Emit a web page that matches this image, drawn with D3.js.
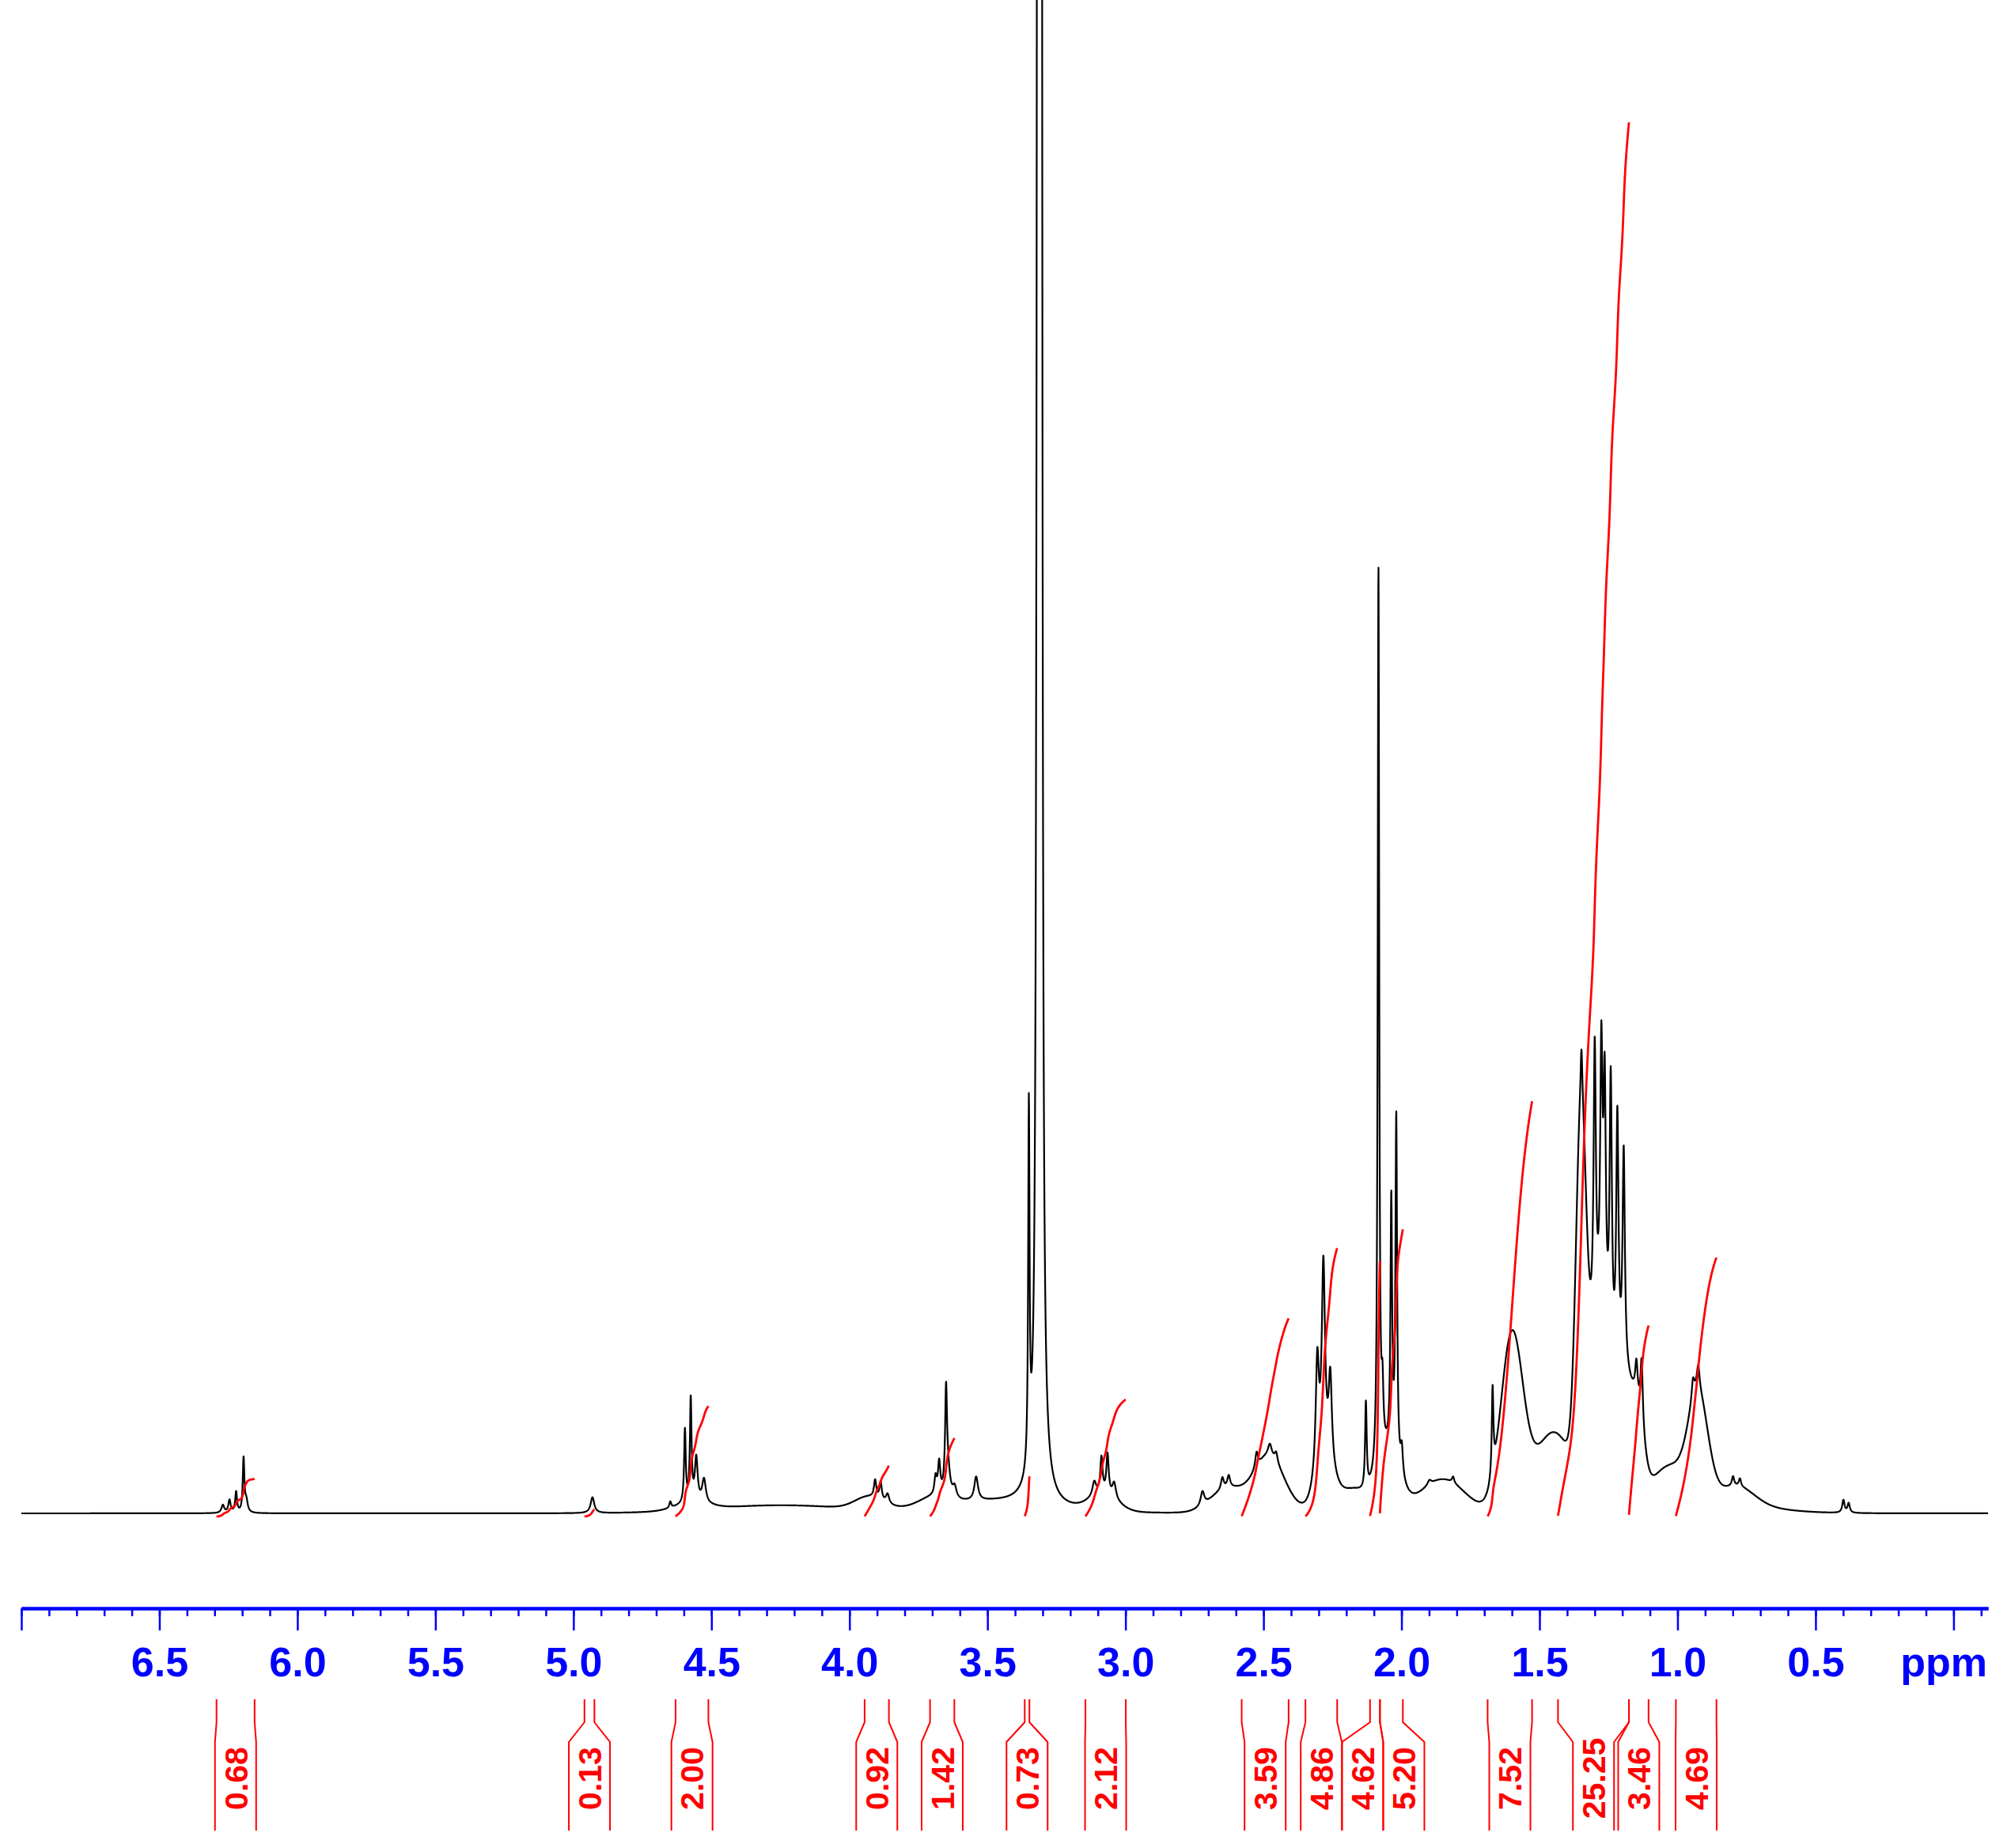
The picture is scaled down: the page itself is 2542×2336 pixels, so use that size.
<!DOCTYPE html>
<html>
<head>
<meta charset="utf-8">
<script src="https://cdn.jsdelivr.net/npm/d3@7"></script>
<style>
  body { margin: 0; background: #fff; }
  svg { display: block; }
  text { font-family: "Liberation Sans", Arial, Helvetica, sans-serif; font-weight: bold; }
</style>
</head>
<body>
<div id="spectrum"></div>
<script>
// sharp lines: shift (ppm), height (a.u.), half width (ppm)
var peakPpm = [6.270, 6.246, 6.222, 6.195, 6.185, 4.931,
  4.649, 4.596, 4.575, 4.555, 4.527,
  3.907, 3.887, 3.862, 3.688, 3.675, 3.650, 3.644, 3.619, 3.541,
  3.350, 3.3165, 3.3065,
  3.113, 3.087, 3.065, 3.041,
  2.721, 2.649, 2.626, 2.525, 2.477, 2.454,
  2.305, 2.283, 2.258,
  2.129, 2.0835, 2.069, 2.037, 2.019, 1.999,
  1.899, 1.813, 1.670,
  1.348, 1.300, 1.276, 1.264, 1.242, 1.218, 1.195,
  1.149, 1.130, 0.944, 0.925, 0.799, 0.774, 0.399, 0.380];
var peakHeight = [10, 16, 26, 68, 14, 20,
  8, 92, 130, 55, 30,
  22, 22, 12, 22, 40, 120, 35, 14, 30,
  450, 6000, 6000,
  18, 45, 50, 20,
  18, 15, 15, 20, 15, 12,
  141, 242, 109,
  110, 1138, 70, 317, 436, 35,
  6, 8, 110,
  60, 350, 323, 290, 347, 317, 275,
  40, 80, 25, 30, 12, 10, 16, 12];
var peakWidth = [0.006, 0.005, 0.004, 0.0035, 0.006, 0.008,
  0.004, 0.0035, 0.0035, 0.006, 0.008,
  0.005, 0.005, 0.007, 0.005, 0.005, 0.004, 0.010, 0.008, 0.008,
  0.0029, 0.0029, 0.0029,
  0.008, 0.005, 0.005, 0.008,
  0.008, 0.006, 0.006, 0.006, 0.008, 0.006,
  0.007, 0.007, 0.007,
  0.0035, 0.0032, 0.004, 0.0035, 0.0035, 0.005,
  0.008, 0.005, 0.0035,
  0.0035, 0.005, 0.005, 0.005, 0.005, 0.005, 0.005,
  0.005, 0.005, 0.006, 0.006, 0.005, 0.005, 0.005, 0.005];

// broad humps under the multiplets: centre (ppm), height, sigma (ppm)
var humpPpm = [4.57, 4.25, 3.50, 3.93, 3.70, 3.08, 2.63, 2.48, 2.28, 2.23, 2.17, 2.05, 1.85,
  1.60, 1.45, 1.35, 1.285, 1.19, 1.14, 1.03, 0.925, 0.78, 0.95];
var humpHeight = [8, 10, 14, 15, 10, 20, 30, 70, 60, 10, 25, 70, 42,
  220, 100, 420, 220, 140, 60, 40, 125, 20, 20];
var humpWidth = [0.06, 0.25, 0.2, 0.05, 0.05, 0.05, 0.06, 0.055, 0.03, 0.03, 0.04, 0.04, 0.08,
  0.04, 0.07, 0.018, 0.04, 0.035, 0.02, 0.06, 0.035, 0.06, 0.2];

// integrals: region limits (ppm) and the printed values
var integralFrom = [6.293, 4.960, 4.630, 3.945, 3.708, 3.365, 3.145, 2.579, 2.348, 2.114, 2.078, 1.688, 1.433, 1.176, 1.006];
var integralTo = [6.155, 4.924, 4.511, 3.857, 3.620, 3.348, 2.999, 2.409, 2.233, 2.078, 1.995, 1.527, 1.176, 1.105, 0.859];
var integralValues = ["0.68", "0.13", "2.00", "0.92", "1.42", "0.73", "2.12", "3.59", "4.86", "4.62", "5.20", "7.52", "25.25", "3.46", "4.69"];

var tickLabels = ["6.5", "6.0", "5.5", "5.0", "4.5", "4.0", "3.5", "3.0", "2.5", "2.0", "1.5", "1.0", "0.5"];

(function() {
  var width = 2542,
    height = 2336;

  var svg = d3.select("#spectrum")
    .append("svg")
    .attr("width", width)
    .attr("height", height);

  var x = d3.scaleLinear().domain([7.0, -0.125]).range([27, 2513]);
  var y = d3.scaleLinear().domain([0, 1913]).range([1913, 0]);
  // integral curves share one vertical scale
  var yInt = d3.scaleLinear().domain([0, 25]).range([1917, 172]);

  function intensity(p) {
    var s = 0;
    for (var i = 0; i < peakPpm.length; i++) {
      var d = p - peakPpm[i], g = peakWidth[i];
      s += peakHeight[i] * g * g / (g * g + d * d);
    }
    for (var j = 0; j < humpPpm.length; j++) {
      var e = (p - humpPpm[j]) / humpWidth[j];
      s += humpHeight[j] * Math.exp(-0.5 * e * e);
    }
    return s;
  }

  var grid = d3.range(x.range()[0], x.range()[1] + 0.25, 0.25).map(function(px) { return x.invert(px); });
  var spectrum = grid.map(function(p) { return [p, intensity(p)]; });

  svg.append("defs").append("clipPath")
    .attr("id", "plot-clip")
    .append("rect")
    .attr("x", 0).attr("y", 0)
    .attr("width", width).attr("height", 2000);

  var line = d3.line()
    .x(function(d) { return x(d[0]); })
    .y(function(d) { return y(d[1]); });

  svg.append("path")
    .datum(spectrum)
    .attr("clip-path", "url(#plot-clip)")
    .attr("fill", "none")
    .attr("stroke", "#000")
    .attr("stroke-width", 2.2)
    .attr("stroke-linejoin", "round")
    .attr("d", line);

  // integral curves (running sum over each region)
  integralValues.forEach(function(v, i) {
    var pts = d3.range(integralFrom[i], integralTo[i] - 0.0002, -0.0005);
    var vals = pts.map(intensity);
    var cum = Array.from(d3.cumsum(vals));
    var total = cum[cum.length - 1];
    var curve = pts.map(function(p, k) { return [x(p), yInt(+v * cum[k] / total)]; });
    svg.append("path")
      .datum(curve)
      .attr("fill", "none")
      .attr("stroke", "#ff0000")
      .attr("stroke-width", 2.8)
      .attr("d", d3.line());
  });

  // axis: minor ticks every 0.1, major every 0.5
  var axisY = 2033;
  var minorAxis = d3.axisBottom(x)
    .tickValues(d3.range(-1, 71).map(function(i) { return i / 10; }))
    .tickSize(10)
    .tickSizeOuter(0)
    .tickFormat("");
  var majorAxis = d3.axisBottom(x)
    .tickValues(d3.range(0, 15).map(function(i) { return i / 2; }))
    .tickSize(28)
    .tickSizeOuter(0)
    .tickFormat(function(d) { return tickLabels.indexOf(d.toFixed(1)) >= 0 ? d.toFixed(1) : ""; });

  var gMinor = svg.append("g").attr("transform", "translate(0," + axisY + ")").call(minorAxis);
  var gMajor = svg.append("g").attr("transform", "translate(0," + axisY + ")").call(majorAxis);
  [gMinor, gMajor].forEach(function(g) {
    g.selectAll("line").attr("stroke", "#0000ff").attr("stroke-width", 2.5);
    g.select(".domain").attr("stroke", "#0000ff").attr("stroke-width", 4);
  });
  gMajor.selectAll("text")
    .attr("fill", "#0000ff")
    .attr("font-size", 52)
    .attr("y", 86)
    .attr("dy", null);

  svg.append("text")
    .attr("x", 2512)
    .attr("y", 2119)
    .attr("text-anchor", "end")
    .attr("fill", "#0000ff")
    .attr("font-size", 52)
    .text("ppm");

  // integral labels under the axis; boxes pushed apart when they collide
  var boxW = 52;
  var boxes = integralValues.map(function(v, i) {
    var l = x(integralFrom[i]), r = x(integralTo[i]);
    return { v: v, l: l, r: r, c: (l + r) / 2 };
  });
  var groups = boxes.map(function(b) { return { members: [b], center: b.c }; });
  var merged = true;
  while (merged) {
    merged = false;
    for (var k = 1; k < groups.length; k++) {
      var a = groups[k - 1], b = groups[k];
      if (a.center + a.members.length * boxW / 2 > b.center - b.members.length * boxW / 2) {
        a.members = a.members.concat(b.members);
        a.center = d3.mean(a.members, function(m) { return m.c; });
        groups.splice(k, 1);
        merged = true;
        break;
      }
    }
  }
  groups.forEach(function(g) {
    var left = g.center - g.members.length * boxW / 2;
    g.members.forEach(function(m, j) { m.bl = left + j * boxW; m.br = m.bl + boxW; });
  });

  var top = 2148, kink1 = 2177, kink2 = 2202, bottom = 2314;
  var labels = svg.selectAll(".int-label")
    .data(boxes)
    .enter().append("g")
    .attr("class", "int-label");

  labels.append("path")
    .attr("fill", "none")
    .attr("stroke", "#ff0000")
    .attr("stroke-width", 2)
    .attr("d", function(d) {
      return "M" + d.l + "," + top + "V" + kink1 + "L" + d.bl + "," + kink2 + "V" + bottom +
        "M" + d.r + "," + top + "V" + kink1 + "L" + d.br + "," + kink2 + "V" + bottom;
    });

  labels.append("text")
    .attr("transform", function(d) { return "translate(" + ((d.bl + d.br) / 2) + ",2248) rotate(-90)"; })
    .attr("text-anchor", "middle")
    .attr("dy", "0.36em")
    .attr("fill", "#ff0000")
    .attr("font-size", 41)
    .text(function(d) { return d.v; });
})();
</script>
</body>
</html>
